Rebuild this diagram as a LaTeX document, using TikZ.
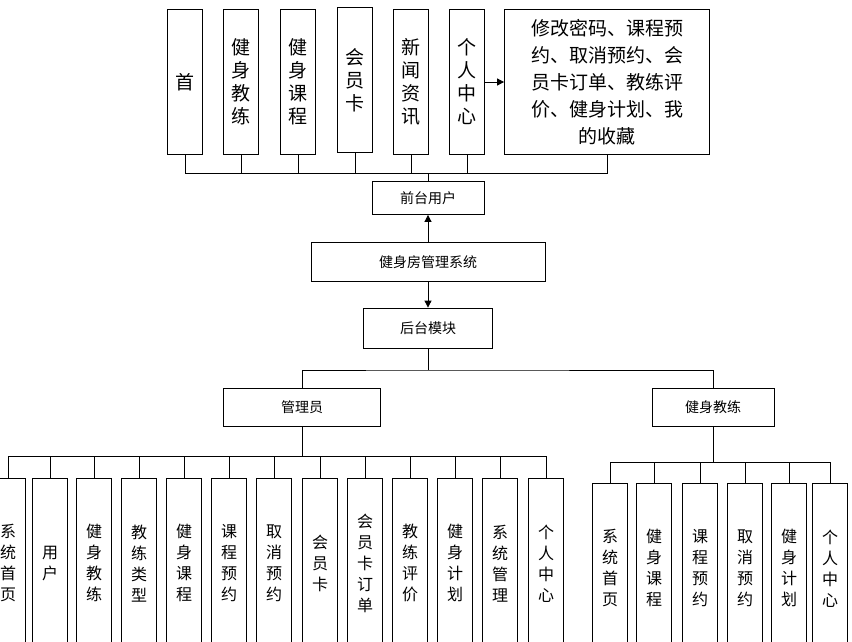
\documentclass[tikz,border=0pt]{standalone}
\usepackage{fontspec}
\setmainfont{Noto Sans CJK SC}
\usetikzlibrary{arrows.meta}
\begin{document}
\begin{tikzpicture}[x=1pt,y=-1pt,
  box/.style={draw,thick,fill=white,inner sep=0pt,align=center},
  topv/.style={box,minimum width=35pt,minimum height=145pt,font=\fontsize{19}{23}\selectfont},
  botv/.style={box,minimum width=35pt,minimum height=170pt,font=\fontsize{16}{21}\selectfont},
  mid/.style={box,font=\fontsize{14}{17}\selectfont},
  ln/.style={thick},
  arr/.style={thick,-{Triangle[length=7pt,width=7pt]}}]
\useasboundingbox (0,0) rectangle (852,641);
\begin{scope}
\clip (0,0) rectangle (852,641);
% top row
\node[topv] (t1) at (185,82) {首};
\node[topv] (t2) at (241,82) {健\\身\\教\\练};
\node[topv] (t3) at (298,82) {健\\身\\课\\程};
\node[topv] (t4) at (355,80) {会\\员\\卡};
\node[topv] (t5) at (411,82) {新\\闻\\资\\讯};
\node[topv] (t6) at (467,82) {个\\人\\中\\心};
\node[box,minimum width=205pt,minimum height=145pt,font=\fontsize{19}{27}\selectfont] (t7) at (607,82) {修改密码、课程预\\约、取消预约、会\\员卡订单、教练评\\价、健身计划、我\\的收藏};
\node[mid,minimum width=112pt,minimum height=33pt] (qt) at (428,198) {前台用户};
\node[mid,minimum width=234pt,minimum height=39pt] (sys) at (428,262) {健身房管理系统};
\node[mid,minimum width=129pt,minimum height=40pt] (ht) at (428,328) {后台模块};
\node[mid,minimum width=157pt,minimum height=38pt] (adm) at (302,407) {管理员};
\node[mid,minimum width=122pt,minimum height=38pt] (coach) at (713,407) {健身教练};
\coordinate (tb) at (428,173);
\foreach \n in {t1,t2,t3,t4,t5,t6,t7}{\draw[ln] (\n.south) |- (tb);}
\draw[ln] (qt.north) -- (tb);
\draw[arr] (t6.east) -- (t7.west);
\draw[arr] (sys.north) -- (qt.south);
\draw[arr] (sys.south) -- (ht.south |- ht.north);
\coordinate (hb) at (428,370);
\draw[ln] (ht.south) -- (hb);
\draw[ln] (adm.north) |- (hb) -| (coach.north);
% admin children
\coordinate (ab) at (302,456);
\draw[ln] (adm.south) -- (ab);
\foreach \x/\t [count=\i] in {8/系\\统\\首\\页,50/用\\户,94/健\\身\\教\\练,139/教\\练\\类\\型,184/健\\身\\课\\程,229/课\\程\\预\\约,274/取\\消\\预\\约,320/会\\员\\卡,365/会\\员\\卡\\订\\单,410/教\\练\\评\\价,455/健\\身\\计\\划,500/系\\统\\管\\理,546/个\\人\\中\\心}{
  \node[botv,anchor=north] (a\i) at (\x,478) {\t};
  \draw[ln] (a\i.north) |- (ab);
}
\coordinate (cb) at (713,462);
\draw[ln] (coach.south) -- (cb);
\foreach \x/\t [count=\i] in {610/系\\统\\首\\页,654/健\\身\\课\\程,700/课\\程\\预\\约,745/取\\消\\预\\约,789/健\\身\\计\\划,830/个\\人\\中\\心}{
  \node[botv,anchor=north] (c\i) at (\x,483) {\t};
  \draw[ln] (c\i.north) |- (cb);
}
\end{scope}
\end{tikzpicture}
\end{document}
